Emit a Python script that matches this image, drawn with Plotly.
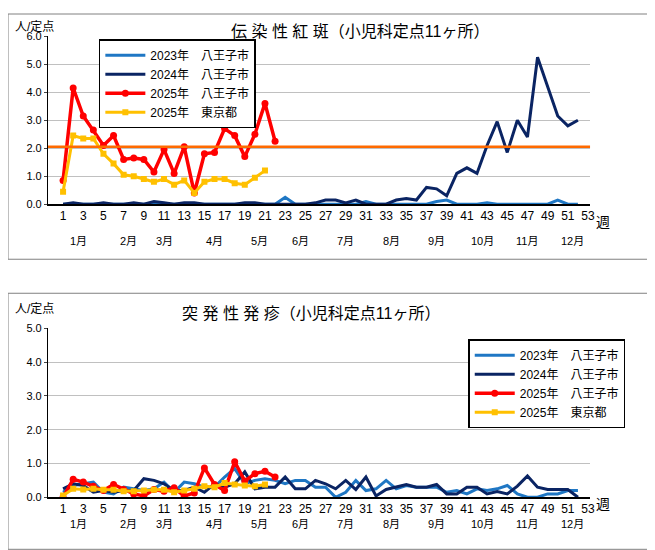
import plotly.graph_objects as go

weeks = list(range(1, 54))
top_2023 = [0,0,0,0,0,0,0,0,0,0,0,0,0,0,0,0,0,0,0,0,0,0,0.25,0,0,0,0,0,0,0,0.1,0,0,0,0,0,0,0.1,0.15,0,0,0,0.05,0,0,0,0,0,0,0.15,0,0]
top_2024 = [0,0.05,0,0,0.05,0,0,0.05,0,0.1,0.05,0,0.05,0.05,0,0,0,0,0.05,0.05,0,0,0,0,0,0.05,
            0.15,0.15,0.05,0.15,0,0,0,0.15,0.2,0.15,0.6,0.55,0.3,1.1,1.3,1.1,2.1,2.95,1.85,3.0,2.4,5.25,4.2,3.15,2.8,3.0]
top_2025_h = [0.85,4.15,3.15,2.65,2.1,2.45,1.6,1.65,1.6,1.15,1.95,1.1,2.05,0.4,1.8,1.85,2.7,2.45,1.7,2.5,3.6,2.25]
top_2025_t = [0.45,2.45,2.35,2.35,1.8,1.45,1.05,1.0,0.9,0.8,0.9,0.7,0.85,0.4,0.8,0.9,0.9,0.75,0.7,0.95,1.2]
top_threshold = 2.05

bot_2023 = [0.15,0.35,0.4,0.45,0.15,0.1,0.3,0.25,0.2,0.25,0.45,0.15,0.45,0.4,0.3,0.3,0.6,0.85,0.4,0.5,0.55,0.5,0.4,0.5,0.5,0.3,
            0.3,0.0,0.15,0.5,0.2,0.25,0.5,0.25,0.35,0.3,0.3,0.3,0.15,0.2,0.1,0.25,0.2,0.25,0.35,0.1,0.0,0.0,0.1,0.1,0.2,0.2]
bot_2024 = [0.25,0.4,0.35,0.15,0.2,0.15,0.2,0.2,0.55,0.5,0.4,0.2,0.2,0.3,0.15,0.4,0.3,0.4,0.75,0.25,0.3,0.3,0.6,0.25,0.25,0.5,
            0.4,0.25,0.5,0.23,0.6,0.04,0.23,0.3,0.38,0.3,0.3,0.38,0.1,0.1,0.3,0.3,0.1,0.17,0.1,0.33,0.63,0.3,0.23,0.23,0.23,0.0]
bot_2025_h = [0,0.53,0.45,0.33,0.2,0.38,0.23,0.1,0.04,0.23,0.18,0.28,0.04,0.13,0.87,0.38,0.2,1.05,0.48,0.7,0.77,0.6]
bot_2025_t = [0.05,0.25,0.23,0.25,0.22,0.22,0.18,0.18,0.2,0.22,0.22,0.15,0.2,0.25,0.33,0.3,0.42,0.38,0.35,0.33,0.38]

months = ["1月","2月","3月","4月","5月","6月","7月","8月","9月","10月","11月","12月"]
month_pos = [2.5,7.5,11,16,20.5,24.5,29,33.5,38,42.5,47,51.5]
names = ["2023年　八王子市","2024年　八王子市","2025年　八王子市","2025年　東京都"]

C23, C24, CH, CT = "#1f77c4", "#0a2463", "#ff0000", "#ffc000"
FONT = "Liberation Sans, Noto Sans CJK JP"

def fy(p):  # target pixel -> paper y (compensate render offset)
    q = (p - 12.8) / 0.978
    return min(1.0, max(0.0, 1 - q / 550))
def fx(p):
    q = (p - 7) / 0.994
    return min(1.0, max(0.0, q / 655))

fig = go.Figure()
def add(xa, ya, leg, data):
    d23, d24, dh, dt = data
    fig.add_trace(go.Scatter(x=weeks[:len(d23)], y=d23, name=names[0], mode="lines", line=dict(color=C23, width=3), xaxis=xa, yaxis=ya, legend=leg))
    fig.add_trace(go.Scatter(x=weeks[:len(d24)], y=d24, name=names[1], mode="lines", line=dict(color=C24, width=3), xaxis=xa, yaxis=ya, legend=leg))
    fig.add_trace(go.Scatter(x=weeks[:len(dh)], y=dh, name=names[2], mode="lines+markers", line=dict(color=CH, width=3.5), marker=dict(size=7, symbol="circle"), xaxis=xa, yaxis=ya, legend=leg))
    fig.add_trace(go.Scatter(x=weeks[:len(dt)], y=dt, name=names[3], mode="lines+markers", line=dict(color=CT, width=3), marker=dict(size=6, symbol="square"), xaxis=xa, yaxis=ya, legend=leg))

add("x", "y", "legend", (top_2023, top_2024, top_2025_h, top_2025_t))
add("x2", "y2", "legend2", (bot_2023, bot_2024, bot_2025_h, bot_2025_t))
fig.add_trace(go.Scatter(x=[-0.5, 53.5], y=[top_threshold]*2, mode="lines", line=dict(color="#ff6a00", width=2.5), showlegend=False, xaxis="x", yaxis="y"))

xdom = [fx(47), fx(590)]
xcommon = dict(range=[-0.5, 53.2], tickvals=list(range(1, 54, 2)), showgrid=False, zeroline=False,
               showline=True, linecolor="black", linewidth=1.5, ticks="", tickfont=dict(size=12, color="black"), domain=xdom)
ycommon = dict(showgrid=True, gridcolor="#c0c0c0", gridwidth=1, zeroline=False, showline=True, linecolor="black",
               tickformat=".1f", tickfont=dict(size=11, color="black"), ticks="outside", ticklen=3)

fig.update_layout(
    width=655, height=550, margin=dict(l=0, r=0, t=0, b=0), paper_bgcolor="white", plot_bgcolor="white",
    font=dict(family=FONT, color="black"),
    xaxis=dict(**xcommon, anchor="y"),
    yaxis=dict(**ycommon, range=[0, 6], dtick=1, domain=[fy(203), fy(35)], anchor="x"),
    xaxis2=dict(**xcommon, anchor="y2"),
    yaxis2=dict(**ycommon, range=[0, 5], dtick=1, domain=[fy(496), fy(327)], anchor="x2"),
    legend=dict(x=fx(98), y=fy(38), xanchor="left", yanchor="top", bordercolor="black", borderwidth=1.5,
                bgcolor="white", font=dict(size=12), tracegroupgap=0, itemwidth=40),
    legend2=dict(x=fx(468), y=fy(338), xanchor="left", yanchor="top", bordercolor="black", borderwidth=1.5,
                 bgcolor="white", font=dict(size=12), tracegroupgap=0, itemwidth=40),
    showlegend=True,
)

shapes = [dict(type="rect", xref="paper", yref="paper", x0=fx(2), x1=fx(652), y0=fy(258), y1=fy(2), line=dict(color="#808080", width=1)),
          dict(type="rect", xref="paper", yref="paper", x0=fx(2), x1=fx(652), y0=fy(548), y1=fy(292), line=dict(color="#808080", width=1))]
fig.update_layout(shapes=shapes)

ann = []
for xr, ypix in (("x", 240), ("x2", 531)):
    for m, p in zip(months, month_pos):
        ann.append(dict(x=p, y=fy(ypix), xref=xr, yref="paper", text=m, showarrow=False, font=dict(size=11)))
for ypix in (221, 513):
    ann.append(dict(x=fx(612), y=fy(ypix), xref="paper", yref="paper", text="週", showarrow=False, font=dict(size=14)))
ann.append(dict(x=fx(12), y=fy(17), xref="paper", yref="paper", text="人/定点", showarrow=False, xanchor="left", font=dict(size=12)))
ann.append(dict(x=fx(12), y=fy(308), xref="paper", yref="paper", text="人/定点", showarrow=False, xanchor="left", font=dict(size=12)))
ann.append(dict(x=fx(360), y=fy(20), xref="paper", yref="paper", text="伝 染 性 紅 斑（小児科定点11ヶ所）", showarrow=False, font=dict(size=16)))
ann.append(dict(x=fx(310), y=fy(312), xref="paper", yref="paper", text="突 発 性 発 疹（小児科定点11ヶ所）", showarrow=False, font=dict(size=16)))
fig.update_layout(annotations=ann)

fig.write_html("out.html")
